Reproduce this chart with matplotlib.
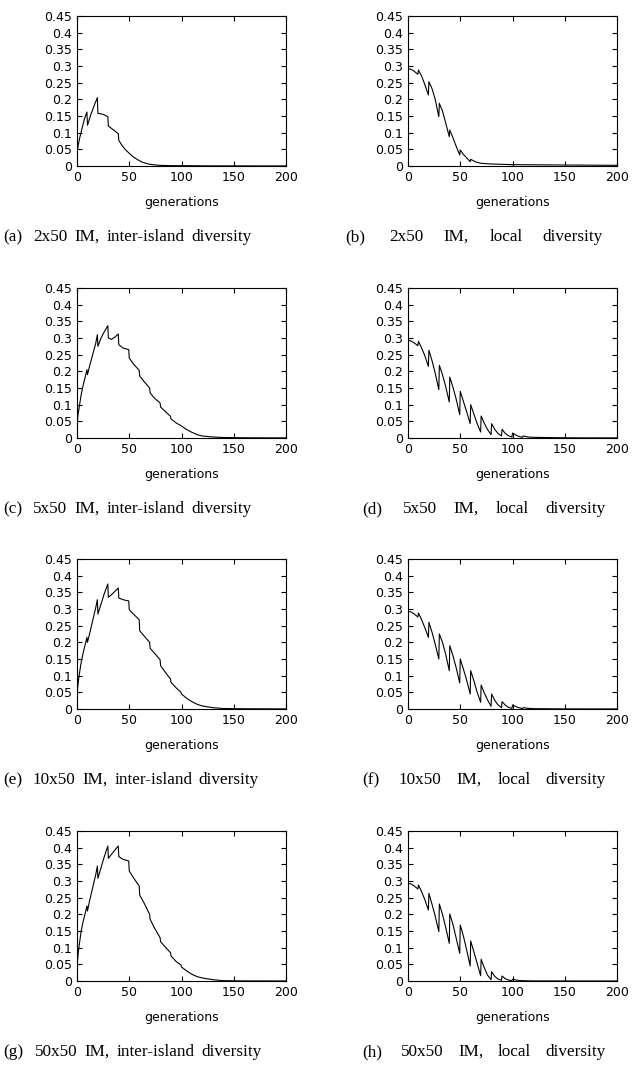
import matplotlib
matplotlib.use("Agg")
import matplotlib.pyplot as plt
from matplotlib.ticker import FuncFormatter

# ---- data ----
gen_a = [0, 1, 3, 5, 7, 9.5, 10, 13, 16, 19.5, 20, 25, 29.5, 30, 35, 39.5, 40,
         43, 46, 50, 54, 58, 62, 66, 70, 75, 80, 90, 100, 120, 150, 200]
div_a = [0.035, 0.06, 0.09, 0.115, 0.14, 0.162, 0.122, 0.152, 0.178, 0.205,
         0.158, 0.155, 0.148, 0.12, 0.108, 0.097, 0.077, 0.062, 0.05, 0.038,
         0.027, 0.019, 0.012, 0.008, 0.005, 0.003, 0.002, 0.001, 0.001,
         0.0005, 0.0003, 0.0002]

gen_b = [0, 3, 6, 9.5, 10, 13, 16, 19.5, 20, 23, 26, 29.5, 30, 33, 36, 39.5,
         40, 43, 46, 49.5, 50, 53, 56, 59.5, 60, 65, 70, 80, 100, 150, 200]
div_b = [0.292, 0.29, 0.284, 0.275, 0.288, 0.27, 0.245, 0.213, 0.253, 0.232,
         0.2, 0.148, 0.188, 0.165, 0.13, 0.088, 0.108, 0.085, 0.06, 0.033,
         0.048, 0.035, 0.025, 0.013, 0.02, 0.012, 0.008, 0.006, 0.004, 0.003,
         0.002]

gen_c = [0, 1, 2, 4, 6, 8, 9.5, 10, 12, 15, 18, 19.5, 20, 23, 26, 29.5, 30, 33,
         36, 39.5, 40, 44, 49.5, 50, 54, 59.5, 60, 64, 69.5, 70, 74, 79.5, 80,
         85, 89.5, 90, 95, 100, 105, 110, 115, 120, 130, 140, 160, 200]
div_c = [0.04, 0.07, 0.09, 0.13, 0.16, 0.185, 0.205, 0.19, 0.215, 0.25, 0.285,
         0.31, 0.275, 0.3, 0.318, 0.337, 0.3, 0.296, 0.302, 0.312, 0.28, 0.27,
         0.265, 0.24, 0.222, 0.203, 0.186, 0.17, 0.15, 0.135, 0.12, 0.105,
         0.093, 0.078, 0.065, 0.057, 0.045, 0.036, 0.025, 0.017, 0.01, 0.006,
         0.003, 0.0015, 0.0007, 0.0003]

# local diversity: same generation grid for (d), (f), (h)
gen_loc = [0, 3, 6, 9.5, 10, 13, 16, 19.5, 20, 23, 26, 29.5, 30, 33, 36, 39.5,
           40, 43, 46, 49.5, 50, 53, 56, 59.5, 60, 63, 66, 69.5, 70, 73, 76,
           79.5, 80, 83, 86, 89.5, 90, 93, 96, 99.5, 100, 105, 109.5, 110, 115,
           120, 140, 160, 200]
div_d = [0.293, 0.291, 0.285, 0.277, 0.29, 0.27, 0.248, 0.215, 0.263, 0.232,
         0.195, 0.145, 0.218, 0.19, 0.155, 0.108, 0.183, 0.152, 0.118, 0.07,
         0.14, 0.11, 0.08, 0.043, 0.1, 0.072, 0.045, 0.018, 0.066, 0.044,
         0.026, 0.01, 0.043, 0.026, 0.014, 0.006, 0.026, 0.014, 0.007, 0.003,
         0.015, 0.006, 0.002, 0.006, 0.003, 0.002, 0.001, 0.0005, 0.0003]
div_f = [0.293, 0.291, 0.285, 0.276, 0.288, 0.268, 0.245, 0.215, 0.26, 0.23,
         0.195, 0.15, 0.225, 0.2, 0.165, 0.115, 0.19, 0.16, 0.125, 0.078,
         0.15, 0.12, 0.088, 0.045, 0.115, 0.085, 0.052, 0.02, 0.072, 0.048,
         0.028, 0.008, 0.045, 0.026, 0.013, 0.004, 0.022, 0.012, 0.005, 0.002,
         0.012, 0.005, 0.001, 0.004, 0.002, 0.001, 0.0005, 0.0003, 0.0002]
div_h = [0.293, 0.291, 0.285, 0.276, 0.288, 0.268, 0.245, 0.213, 0.263, 0.23,
         0.195, 0.148, 0.231, 0.2, 0.162, 0.113, 0.201, 0.17, 0.13, 0.083,
         0.168, 0.135, 0.095, 0.045, 0.12, 0.088, 0.055, 0.016, 0.065, 0.04,
         0.018, 0.004, 0.028, 0.014, 0.006, 0.002, 0.015, 0.007, 0.003, 0.001,
         0.005, 0.002, 0.001, 0.001, 0.0005, 0.0003, 0.0002, 0.0001, 0.0001]

# inter-island for (e), (g)
gen_eg = [0, 1, 2, 4, 6, 8, 9.5, 10, 12, 15, 18, 19.5, 20, 23, 26, 29.5, 30,
          33, 36, 39.5, 40, 44, 49.5, 50, 54, 59.5, 60, 64, 69.5, 70, 74, 79.5,
          80, 85, 89.5, 90, 95, 99.5, 100, 105, 110, 115, 120, 130, 140, 160,
          200]
div_e = [0.04, 0.075, 0.1, 0.14, 0.17, 0.195, 0.215, 0.2, 0.225, 0.265, 0.305,
         0.328, 0.285, 0.315, 0.345, 0.375, 0.335, 0.343, 0.352, 0.363, 0.333,
         0.328, 0.324, 0.298, 0.285, 0.268, 0.235, 0.22, 0.2, 0.182, 0.168,
         0.148, 0.13, 0.108, 0.09, 0.08, 0.063, 0.05, 0.045, 0.032, 0.022,
         0.014, 0.009, 0.004, 0.0015, 0.0007, 0.0003]
div_g = [0.04, 0.08, 0.105, 0.15, 0.18, 0.205, 0.225, 0.21, 0.24, 0.28, 0.32,
         0.345, 0.308, 0.34, 0.372, 0.405, 0.368, 0.38, 0.392, 0.405, 0.373,
         0.365, 0.36, 0.33, 0.31, 0.285, 0.258, 0.235, 0.2, 0.185, 0.16, 0.13,
         0.118, 0.1, 0.085, 0.075, 0.058, 0.048, 0.042, 0.03, 0.02, 0.013,
         0.009, 0.004, 0.001, 0.0003, 0.0001]

captions = ["(a) 2x50 IM, inter-island diversity", "(b) 2x50 IM, local diversity",
            "(c) 5x50 IM, inter-island diversity", "(d) 5x50 IM, local diversity",
            "(e) 10x50 IM, inter-island diversity", "(f) 10x50 IM, local diversity",
            "(g) 50x50 IM, inter-island diversity", "(h) 50x50 IM, local diversity"]
series = [(gen_a, div_a), (gen_b, div_b), (gen_c, div_c), (gen_loc, div_d),
          (gen_eg, div_e), (gen_loc, div_f), (gen_eg, div_g), (gen_loc, div_h)]

x_ticks = [0, 50, 100, 150, 200]
y_ticks = [0, 0.05, 0.1, 0.15, 0.2, 0.25, 0.3, 0.35, 0.4, 0.45]

W, H = 633, 1069
fig = plt.figure(figsize=(W / 100, H / 100), dpi=100)

col_left = [77, 408]           # px, axes left edges
ax_w = 209
row_top = [16, 288, 559, 831]  # px, axes top edges
ax_h = 150
cap_y = [237, 509, 780, 1052]
# left / right pixel extent of each (justified) caption line
cap_span = [(3, 252), (345, 603), (3, 252), (362, 606),
            (3, 259), (362, 606), (3, 262), (362, 606)]

sans = 'DejaVu Sans'
serif = 'Liberation Serif'


def justified(text, x0, x1, y, **kw):
    """Spread the words of one caption line between x0 and x1 (px); the label
    gets one extra word space after it."""
    rend = fig.canvas.get_renderer()
    words = text.split()
    items = [fig.text(0, 1 - y / H, w, va='center', ha='left', **kw)
             for w in words]
    widths = [t.get_window_extent(rend).width for t in items]
    space = 0.25 * kw['fontsize'] * 100 / 72
    gap = max(space, (x1 - x0 - sum(widths) - space) / (len(words) - 1))
    x = x0
    for k, (t, w) in enumerate(zip(items, widths)):
        t.set_x(x / W)
        x += w + gap + (space if k == 0 else 0)


for i, (gx, gy) in enumerate(series):
    r, c = divmod(i, 2)
    ax = fig.add_axes([col_left[c] / W, 1 - (row_top[r] + ax_h) / H,
                       ax_w / W, ax_h / H])
    ax.plot(gx, gy, color='black', lw=0.8)
    ax.set_xlim(0, 200)
    ax.set_ylim(0, 0.45)
    ax.set_xticks(x_ticks)
    ax.set_yticks(y_ticks)
    ax.yaxis.set_major_formatter(FuncFormatter(lambda v, p: f"{v:g}"))
    ax.tick_params(direction='in', top=True, right=True, length=3.5, width=0.8,
                   labelsize=9, pad=3.5)
    for lab in ax.get_xticklabels() + ax.get_yticklabels():
        lab.set_fontfamily(sans)
    for sp in ax.spines.values():
        sp.set_linewidth(0.8)
    ax.set_xlabel('generations', fontsize=9, fontfamily=sans, labelpad=9)
    justified(captions[i], *cap_span[i], cap_y[r], fontsize=12.3,
              fontfamily=serif)

fig.savefig('out.png', dpi=100)
